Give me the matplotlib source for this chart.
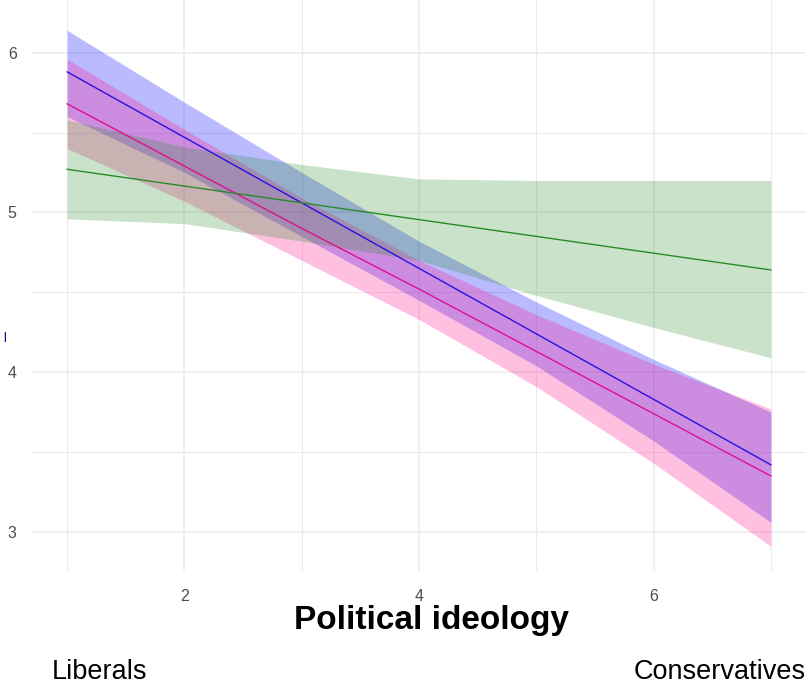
import matplotlib.pyplot as plt
import numpy as np

# predicted values by ideology, with 95% bands
ideology = [1, 2, 3, 4, 5, 6, 7]

blue_fit = [5.88, 5.47, 5.06, 4.65, 4.24, 3.83, 3.42]
blue_lo = [5.60, 5.25, 4.85, 4.45, 4.04, 3.57, 3.06]
blue_hi = [6.14, 5.69, 5.25, 4.82, 4.44, 4.08, 3.75]

pink_fit = [5.68, 5.29, 4.90, 4.52, 4.13, 3.74, 3.35]
pink_lo = [5.40, 5.07, 4.70, 4.33, 3.91, 3.43, 2.91]
pink_hi = [5.96, 5.52, 5.09, 4.70, 4.36, 4.05, 3.77]

green_fit = [5.27, 5.165, 5.06, 4.955, 4.85, 4.745, 4.64]
green_lo = [4.96, 4.93, 4.82, 4.70, 4.48, 4.28, 4.09]
green_hi = [5.58, 5.41, 5.30, 5.21, 5.20, 5.20, 5.20]

xticks = [2, 4, 6]
yticks = [3, 4, 5, 6]

plt.rcParams['font.family'] = ['Liberation Sans', 'DejaVu Sans']

fig = plt.figure(figsize=(8.12, 6.96), dpi=100)
ax = fig.add_axes([32 / 812, 1 - 571 / 696, 774 / 812, 571 / 696])

ax.fill_between(ideology, blue_lo, blue_hi, color='#0000ff', alpha=0.27, lw=0, zorder=2)
ax.fill_between(ideology, pink_lo, pink_hi, color='#ff1493', alpha=0.27, lw=0, zorder=3)
ax.fill_between(ideology, green_lo, green_hi, color='#228b22', alpha=0.245, lw=0, zorder=4)

ax.plot(ideology, blue_fit, color='#2a10e0', lw=1.0, zorder=6)
ax.plot(ideology, pink_fit, color='#e0108c', lw=1.0, zorder=6)
ax.plot(ideology, green_fit, color='#2a8a2a', lw=1.0, zorder=6)

ax.set_xlim(0.7, 7.3)
ax.set_ylim(2.755, 6.33)
ax.set_xticks(xticks)
ax.set_yticks(yticks)
ax.set_xticks([1, 3, 5, 7], minor=True)
ax.set_yticks([3.5, 4.5, 5.5], minor=True)
ax.grid(which='major', color='#ebebeb', lw=1.1, zorder=0)
ax.grid(which='minor', color='#ebebeb', lw=0.8, zorder=0)
ax.set_axisbelow(True)
for s in ax.spines.values():
    s.set_visible(False)
ax.tick_params(which='both', length=0, labelsize=11.5, labelcolor='#4d4d4d')
ax.tick_params(axis='x', pad=13)
ax.tick_params(axis='y', pad=11)

fig.text(432 / 812, 1 - 621 / 696, 'Political ideology', ha='center', va='center',
         fontsize=24, fontweight='bold')
fig.text(52 / 812, 1 - 672 / 696, 'Liberals', ha='left', va='center', fontsize=19.5)
fig.text(806 / 812, 1 - 672 / 696, 'Conservatives', ha='right', va='center', fontsize=19.5)
fig.text(5 / 812, 1 - 337 / 696, '|', ha='center', va='center', fontsize=7,
         color='#0a1a8a', fontweight='bold')

fig.savefig('out.png', dpi=100)
